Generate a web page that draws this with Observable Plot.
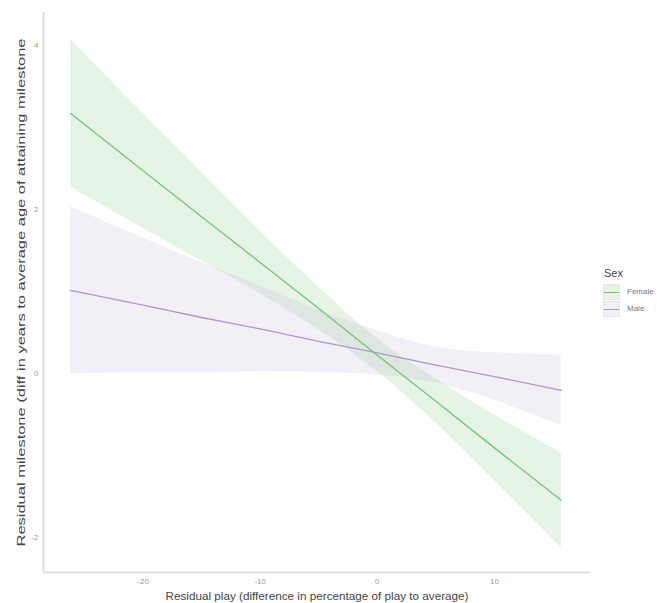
<!DOCTYPE html>
<html>
<head>
<meta charset="utf-8">
<script src="https://cdn.jsdelivr.net/npm/d3@7"></script>
<script src="https://cdn.jsdelivr.net/npm/@observablehq/plot@0.6"></script>
<style>
  html, body { margin: 0; padding: 0; background: #fff; }
  body { width: 668px; height: 603px; position: relative; overflow: hidden; font-family: "Liberation Sans", Arial, sans-serif; }
  #legend { position: absolute; left: 598px; top: 267px; font-family: "Liberation Sans", Arial, sans-serif; }
  #legend .title { font-size: 11px; color: #444; margin-left: 6px; margin-bottom: 4px; }
  #legend .row { display: flex; align-items: center; height: 17px; }
  #legend .key { width: 17px; height: 16px; position: relative; margin-left: 5px; box-sizing: border-box; border: 1px solid #e6e6e6; }
  #legend .key span { position: absolute; left: 0; right: 0; top: 7px; height: 1.3px; }
  #legend .lab { font-size: 8px; color: #777; margin-left: 7px; }
</style>
</head>
<body>
<div id="chart"></div>
<div id="legend"></div>
<script>
// ---- data ----
const sexes = ["Female", "Male"];
const xs = [-26.2, -20, -15, -10, -5, 0, 5, 10, 15.7];
const femaleFit = [3.17, 2.47, 1.91, 1.35, 0.79, 0.22, -0.34, -0.91, -1.55];
const femaleLo  = [2.27, 1.77, 1.37, 0.97, 0.53, 0.02, -0.61, -1.31, -2.13];
const femaleHi  = [4.07, 3.17, 2.45, 1.73, 1.05, 0.42, -0.07, -0.51, -0.97];
const maleFit = [1.01, 0.83, 0.68, 0.54, 0.39, 0.25, 0.10, -0.04, -0.21];
const maleLo  = [-0.01, 0.01, 0.01, 0.02, 0.01, -0.02, -0.12, -0.33, -0.64];
const maleHi  = [2.03, 1.65, 1.35, 1.06, 0.77, 0.52, 0.32, 0.25, 0.22];
const xTicks = [-20, -10, 0, 10];
const yTicks = [-2, 0, 2, 4];
const xDomain = [-28.5, 18.2];
const yDomain = [-2.43, 4.40];
const xTitle = "Residual play (difference in percentage of play to average)";
const yTitle = "Residual milestone (diff in years to average age of attaining milestone";
const legendTitle = "Sex";

const lineColors = {Female: "#77c177", Male: "#a99bc9"};
const fillColors = {Female: "#7fc97f", Male: "#beaed4"};

const rows = [];
xs.forEach((x, i) => rows.push({sex: "Female", x, fit: femaleFit[i], lo: femaleLo[i], hi: femaleHi[i]}));
xs.forEach((x, i) => rows.push({sex: "Male", x, fit: maleFit[i], lo: maleLo[i], hi: maleHi[i]}));

const font = "Liberation Sans, Arial, sans-serif";

const chart = Plot.plot({
  width: 668,
  height: 603,
  marginLeft: 43,
  marginRight: 78,
  marginTop: 12,
  marginBottom: 31,
  style: {fontFamily: font, background: "#fff", overflow: "visible"},
  x: {domain: xDomain},
  y: {domain: yDomain},
  marks: [
    Plot.areaY(rows, {x: "x", y1: "lo", y2: "hi", z: "sex", fill: d => fillColors[d.sex], fillOpacity: 0.2, curve: "natural"}),
    Plot.line(rows, {x: "x", y: "fit", z: "sex", stroke: d => lineColors[d.sex], strokeWidth: 1.3}),
    Plot.ruleY([yDomain[0]], {stroke: "#dedede", strokeWidth: 2}),
    Plot.ruleX([xDomain[0]], {stroke: "#dedede", strokeWidth: 2}),
    Plot.axisX({ticks: xTicks, tickFormat: d => String(d), tickSize: 0, tickPadding: 6, fontSize: 8, color: "#999",
      label: xTitle, labelAnchor: "center", labelOffset: 27}),
    Plot.axisY({ticks: yTicks, tickFormat: d => String(d), tickSize: 0, tickPadding: 5, fontSize: 8, color: "#999",
      label: yTitle, labelAnchor: "center", labelOffset: 26})
  ]
});
document.getElementById("chart").appendChild(chart);

// axis titles: plain text (no arrows), stretched like the reference
const xl = d3.select(chart).select('g[aria-label="x-axis label"] text');
xl.text(xTitle).attr("fill", "#444").style("font-size", "11.5px")
  .attr("textLength", 303).attr("lengthAdjust", "spacingAndGlyphs");
const yl = d3.select(chart).select('g[aria-label="y-axis label"] text');
yl.text(yTitle).attr("fill", "#444").style("font-size", "11px")
  .attr("textLength", 508).attr("lengthAdjust", "spacingAndGlyphs");

// legend
const lg = d3.select("#legend");
lg.append("div").attr("class", "title").text(legendTitle);
sexes.forEach(s => {
  const r = lg.append("div").attr("class", "row");
  const k = r.append("div").attr("class", "key").style("background", d3.color(fillColors[s]).copy({opacity: 0.2}).formatRgb());
  k.append("span").style("background", lineColors[s]);
  r.append("div").attr("class", "lab").text(s);
});
</script>
</body>
</html>
